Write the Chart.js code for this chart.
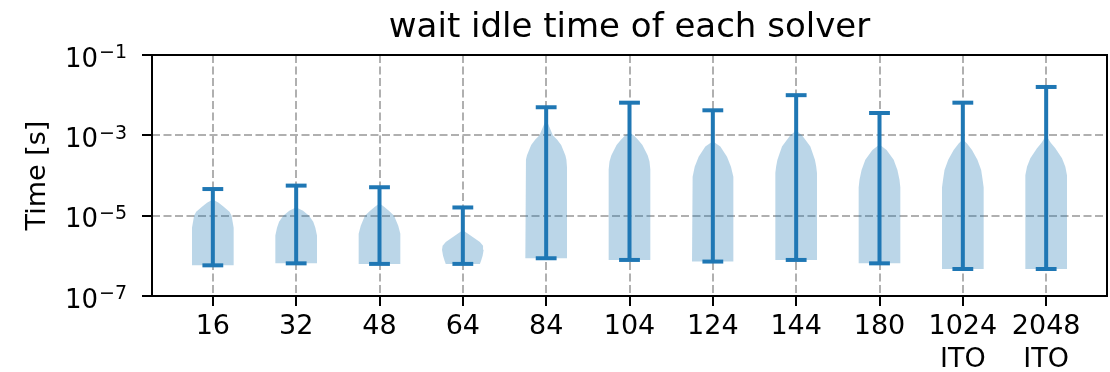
<!DOCTYPE html>
<html><head><meta charset="utf-8">
<script src="https://cdn.jsdelivr.net/npm/chart.js@4.4.1/dist/chart.umd.min.js"></script>
<style>html,body{margin:0;padding:0;background:#fff}#wrap{width:1110px;height:372px}</style>
</head><body><div id="wrap"><canvas id="c" width="1110" height="372"></canvas></div>
<script>
// ---- data ----
const chartTitle = 'wait idle time of each solver';
const categories = ['16','32','48','64','84','104','124','144','180',['1024','ITO'],['2048','ITO']];
const minTimes = [5.8e-7, 6.5e-7, 6.3e-7, 6.3e-7, 8.7e-7, 7.9e-7, 7.2e-7, 7.9e-7, 6.5e-7, 4.7e-7, 4.7e-7];
const maxTimes = [4.6e-5, 5.6e-5, 5.1e-5, 1.6e-5, 5.0e-3, 6.5e-3, 4.2e-3, 1.0e-2, 3.6e-3, 6.5e-3, 1.6e-2];
// violin outline: time levels (bottom -> top) and relative half-width at each level
const shapeTimes = [
  [5.8e-7, 5.0e-6, 7.1e-6, 1.0e-5, 1.26e-5, 1.66e-5, 2.1e-5, 2.45e-5],
  [6.5e-7, 3.2e-6, 5.0e-6, 7.1e-6, 1.0e-5, 1.32e-5, 1.58e-5],
  [6.3e-7, 3.55e-6, 5.6e-6, 1.0e-5, 1.32e-5, 1.66e-5, 1.95e-5],
  [6.3e-7, 7.6e-7, 1.0e-6, 1.41e-6, 1.78e-6, 2.2e-6, 2.75e-6, 3.4e-6, 4.2e-6],
  [8.7e-7, 1.58e-4, 2.5e-4, 3.2e-4, 5.75e-4, 7.9e-4, 1.0e-3, 1.41e-3, 1.9e-3, 2.3e-3],
  [7.9e-7, 1.41e-4, 2.24e-4, 3.2e-4, 5.75e-4, 7.9e-4, 1.0e-3, 1.15e-3],
  [7.2e-7, 7.1e-5, 9.3e-5, 1.66e-4, 2.95e-4, 5.25e-4, 6.9e-4],
  [7.9e-7, 1.15e-4, 1.7e-4, 2.45e-4, 5.25e-4, 7.6e-4, 1.0e-3, 1.2e-3, 1.35e-3],
  [6.5e-7, 5.0e-5, 7.8e-5, 1.38e-4, 2.45e-4, 4.3e-4, 5.75e-4],
  [4.7e-7, 5.0e-5, 7.8e-5, 1.38e-4, 2.45e-4, 4.3e-4, 6.3e-4, 7.6e-4],
  [4.7e-7, 1.02e-4, 1.66e-4, 2.7e-4, 4.8e-4, 6.5e-4, 9.3e-4]
];
const shapeWidths = [
  [1, 1, 0.95, 0.9, 0.8, 0.52, 0.28, 0.04],
  [1, 1, 0.92, 0.82, 0.62, 0.33, 0.04],
  [1, 1, 0.9, 0.7, 0.45, 0.22, 0.04],
  [0.82, 0.88, 0.95, 1.0, 0.97, 0.82, 0.56, 0.3, 0.04],
  [1, 1, 0.97, 0.92, 0.72, 0.52, 0.32, 0.2, 0.1, 0.03],
  [1, 1, 0.96, 0.87, 0.62, 0.4, 0.2, 0.03],
  [1, 1, 0.97, 0.87, 0.68, 0.36, 0.03],
  [1, 1, 0.96, 0.9, 0.68, 0.45, 0.28, 0.1, 0.03],
  [1, 1, 0.96, 0.86, 0.68, 0.34, 0.03],
  [1, 1, 0.95, 0.88, 0.7, 0.44, 0.2, 0.03],
  [1, 1, 0.92, 0.76, 0.44, 0.22, 0.03]
];
const yTickValues = [1e-7, 1e-5, 1e-3, 1e-1];
const yTickBase = ['10', '10', '10', '10'];
const yTickExponents = ['\u22127', '\u22125', '\u22123', '\u22121'];

// ---- styling ----
const FONT = 'DejaVu Sans';
const BLUE = '#1f77b4';
const BODY = 'rgba(31,119,180,0.3)';
const HALF = 0.25;   // max violin half width (x units)
const CAP = 0.125;   // cap half length

const lineSets = [];
const bodySets = [];
categories.forEach((c, i) => {
  const p = i + 1;
  const lineStyle = {type:'line', borderColor: BLUE, borderWidth: 4, pointRadius: 0, fill: false, tension: 0, borderCapStyle: 'butt'};
  lineSets.push(Object.assign({data: [{x: p, y: minTimes[i]}, {x: p, y: maxTimes[i]}]}, lineStyle));
  lineSets.push(Object.assign({data: [{x: p - CAP, y: minTimes[i]}, {x: p + CAP, y: minTimes[i]}]}, lineStyle));
  lineSets.push(Object.assign({data: [{x: p - CAP, y: maxTimes[i]}, {x: p + CAP, y: maxTimes[i]}]}, lineStyle));
  const right = shapeTimes[i].map((t, j) => ({x: p + HALF * shapeWidths[i][j], y: t}));
  const left = shapeTimes[i].map((t, j) => ({x: p - HALF * shapeWidths[i][j], y: t})).reverse();
  bodySets.push({type:'line', data: right.concat(left), borderWidth: 0, borderColor: 'rgba(0,0,0,0)',
    backgroundColor: BODY, fill: 'shape', pointRadius: 0, tension: 0});
});

const framePlugin = {
  id: 'frame',
  afterDatasetsDraw(chart) {
    const {ctx, chartArea: a} = chart;
    ctx.save();
    ctx.strokeStyle = '#000';
    ctx.lineWidth = 2;
    ctx.strokeRect(a.left, a.top, a.right - a.left, a.bottom - a.top);
    ctx.restore();
  },
  afterDraw(chart) {
    const {ctx, chartArea: a} = chart;
    const ys = chart.scales.y;
    ctx.save();
    ctx.fillStyle = '#000';
    // title centred over the plot area
    ctx.font = '34px "' + FONT + '"';
    ctx.textAlign = 'center';
    ctx.textBaseline = 'alphabetic';
    ctx.fillText(chartTitle, (a.left + a.right) / 2, 36.5);
    // y tick labels: base with superscript exponent
    const rightEdge = a.left - 25;
    yTickValues.forEach((v, i) => {
      const py = ys.getPixelForValue(v);
      ctx.textAlign = 'left';
      ctx.font = '19px "' + FONT + '"';
      const wSup = ctx.measureText(yTickExponents[i]).width;
      ctx.font = '26px "' + FONT + '"';
      const wBase = ctx.measureText(yTickBase[i]).width;
      const x0 = rightEdge - wSup - wBase - 1;
      ctx.fillText(yTickBase[i], x0, py + 11.5);
      ctx.font = '19px "' + FONT + '"';
      ctx.fillText(yTickExponents[i], x0 + wBase + 1, py + 3.3);
    });
    ctx.restore();
  }
};

const gridOpts = {color: '#b0b0b0', lineWidth: 2, tickColor: '#000', tickWidth: 2, tickLength: 10, drawTicks: true};

new Chart(document.getElementById('c'), {
  type: 'line',
  data: {datasets: lineSets.concat(bodySets)},
  options: {
    responsive: false,
    animation: false,
    devicePixelRatio: 1,
    events: [],
    layout: {padding: {left: 0, right: 3, top: 55, bottom: 0}},
    plugins: {
      legend: {display: false},
      tooltip: {enabled: false},
      title: {display: false}
    },
    scales: {
      x: {
        type: 'linear', min: 0.27, max: 11.73,
        afterBuildTicks: s => { s.ticks = categories.map((c, i) => ({value: i + 1})); },
        afterFit: s => { s.height = 76; },
        ticks: {callback: (v, i) => categories[i], color: '#000', font: {family: FONT, size: 27},
          padding: 5, autoSkip: false, maxRotation: 0, minRotation: 0},
        grid: gridOpts,
        border: {display: false, dash: [8, 3.5]}
      },
      y: {
        type: 'logarithmic', min: 1e-7, max: 1e-1,
        afterBuildTicks: s => { s.ticks = yTickValues.map(v => ({value: v})); },
        afterFit: s => { s.width = 152; },
        ticks: {display: false},
        grid: gridOpts,
        border: {display: false, dash: [8, 3.5]},
        title: {display: true, text: 'Time [s]', color: '#000', font: {family: FONT, size: 27},
          padding: {top: 22, bottom: 0}}
      }
    }
  },
  plugins: [framePlugin]
});
</script>
</body></html>
